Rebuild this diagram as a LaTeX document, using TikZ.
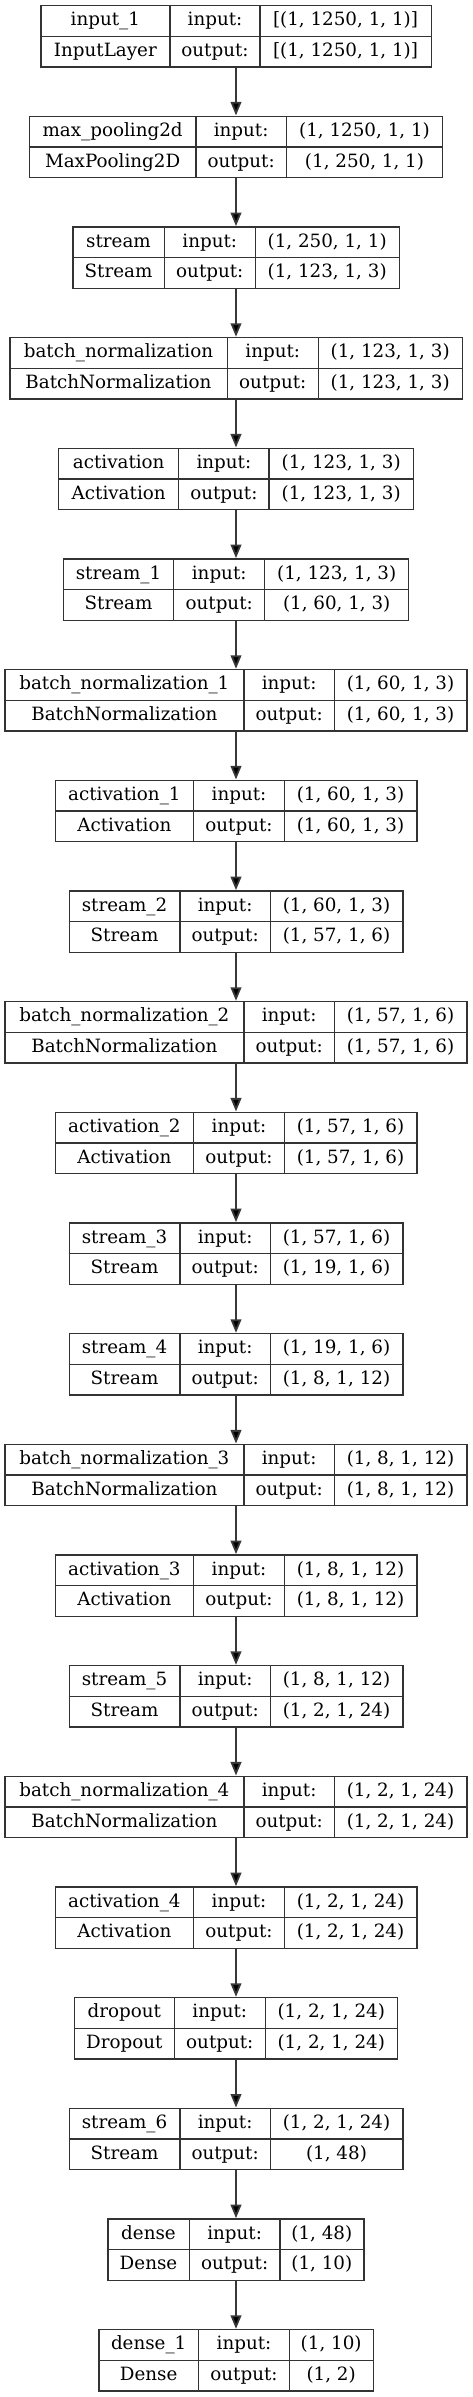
\documentclass[tikz,border=0pt]{standalone}
\usepackage{fontspec}
\setmainfont{DejaVu Serif}
\usetikzlibrary{arrows.meta}
\tikzset{
  boxframe/.style={draw=black!80, line width=1.3pt, inner sep=0pt, minimum height=61.3pt},
  divline/.style={draw=black!80, line width=1.3pt},
  celltext/.style={inner sep=0pt, anchor=center, text height=13.2pt, text depth=3.6pt, font=\fontsize{18.3}{22}\selectfont},
  flow/.style={draw=black!78, line width=1.8pt, -{Triangle[width=10.7pt,length=13.5pt,fill=black]}, shorten >=0.3pt}
}
\newcommand\layerbox[9]{%
  \pgfmathsetmacro\ytop{5.7+110.67*#1}%
  \pgfmathsetmacro\ymid{\ytop+30.65}%
  \pgfmathsetmacro\ybot{\ytop+61.3}%
  \pgfmathsetmacro\yup{\ytop+15.33}%
  \pgfmathsetmacro\ydn{\ytop+45.97}%
  \pgfmathsetmacro\wbox{#9-#6}%
  \pgfmathsetmacro\xa{(#6+#7)/2}%
  \pgfmathsetmacro\xb{(#7+#8)/2}%
  \pgfmathsetmacro\xc{(#8+#9)/2}%
  \node[boxframe, minimum width=\wbox pt] (l#1) at (236,\ymid) {};
  \draw[divline] (#7,\ytop) -- (#7,\ybot);
  \draw[divline] (#8,\ytop) -- (#8,\ybot);
  \draw[divline] (l#1.west) -- (l#1.east);
  \node[celltext] (l#1n) at (\xa,\yup) {#2};
  \node[celltext] (l#1t) at (\xa,\ydn) {#3};
  \node[celltext] (l#1a) at (\xb,\yup) {input:};
  \node[celltext] (l#1b) at (\xb,\ydn) {output:};
  \node[celltext] (l#1i) at (\xc,\yup) {#4};
  \node[celltext] (l#1o) at (\xc,\ydn) {#5};
}
\begin{document}
\begin{tikzpicture}[x=1pt,y=-1pt]
\useasboundingbox[fill=white] (0,0) rectangle (472,2397);
\layerbox{0}{input\_1}{InputLayer}{[(1, 1250, 1, 1)]}{[(1, 1250, 1, 1)]}{40.7}{170}{260}{431}
\layerbox{1}{max\_pooling2d}{MaxPooling2D}{(1, 1250, 1, 1)}{(1, 250, 1, 1)}{29.3}{196}{286.3}{442.7}
\layerbox{2}{stream}{Stream}{(1, 250, 1, 1)}{(1, 123, 1, 3)}{72.7}{164.3}{255.3}{399}
\layerbox{3}{batch\_normalization}{BatchNormalization}{(1, 123, 1, 3)}{(1, 123, 1, 3)}{9.7}{227.3}{318.3}{462}
\layerbox{4}{activation}{Activation}{(1, 123, 1, 3)}{(1, 123, 1, 3)}{58.7}{178.7}{269}{413.3}
\layerbox{5}{stream\_1}{Stream}{(1, 123, 1, 3)}{(1, 60, 1, 3)}{63.3}{173.7}{264.7}{408.7}
\layerbox{6}{batch\_normalization\_1}{BatchNormalization}{(1, 60, 1, 3)}{(1, 60, 1, 3)}{4.7}{244}{334.3}{466.7}
\layerbox{7}{activation\_1}{Activation}{(1, 60, 1, 3)}{(1, 60, 1, 3)}{55}{193.7}{284.3}{416.7}
\layerbox{8}{stream\_2}{Stream}{(1, 60, 1, 3)}{(1, 57, 1, 6)}{69}{180}{270.3}{402.7}
\layerbox{9}{batch\_normalization\_2}{BatchNormalization}{(1, 57, 1, 6)}{(1, 57, 1, 6)}{4.7}{244}{334.3}{466.7}
\layerbox{10}{activation\_2}{Activation}{(1, 57, 1, 6)}{(1, 57, 1, 6)}{55}{193.7}{284.3}{416.7}
\layerbox{11}{stream\_3}{Stream}{(1, 57, 1, 6)}{(1, 19, 1, 6)}{69}{180}{270.3}{402.7}
\layerbox{12}{stream\_4}{Stream}{(1, 19, 1, 6)}{(1, 8, 1, 12)}{69}{180}{270.3}{402.7}
\layerbox{13}{batch\_normalization\_3}{BatchNormalization}{(1, 8, 1, 12)}{(1, 8, 1, 12)}{4.7}{244}{334.3}{466.7}
\layerbox{14}{activation\_3}{Activation}{(1, 8, 1, 12)}{(1, 8, 1, 12)}{55}{193.7}{284.3}{416.7}
\layerbox{15}{stream\_5}{Stream}{(1, 8, 1, 12)}{(1, 2, 1, 24)}{69}{180}{270.3}{402.7}
\layerbox{16}{batch\_normalization\_4}{BatchNormalization}{(1, 2, 1, 24)}{(1, 2, 1, 24)}{4.7}{244}{334.3}{466.7}
\layerbox{17}{activation\_4}{Activation}{(1, 2, 1, 24)}{(1, 2, 1, 24)}{55}{193.7}{284.3}{416.7}
\layerbox{18}{dropout}{Dropout}{(1, 2, 1, 24)}{(1, 2, 1, 24)}{74.3}{174.3}{265.3}{397.3}
\layerbox{19}{stream\_6}{Stream}{(1, 2, 1, 24)}{(1, 48)}{69}{180}{270.3}{402.7}
\layerbox{20}{dense}{Dense}{(1, 48)}{(1, 10)}{107.7}{189.3}{280}{363.7}
\layerbox{21}{dense\_1}{Dense}{(1, 10)}{(1, 2)}{98.7}{198.7}{289.3}{373}
\foreach \i [evaluate=\i as \j using int(\i+1)] in {0,...,20}
  \draw[flow] (l\i.south) -- (l\j.north);
\end{tikzpicture}
\end{document}
